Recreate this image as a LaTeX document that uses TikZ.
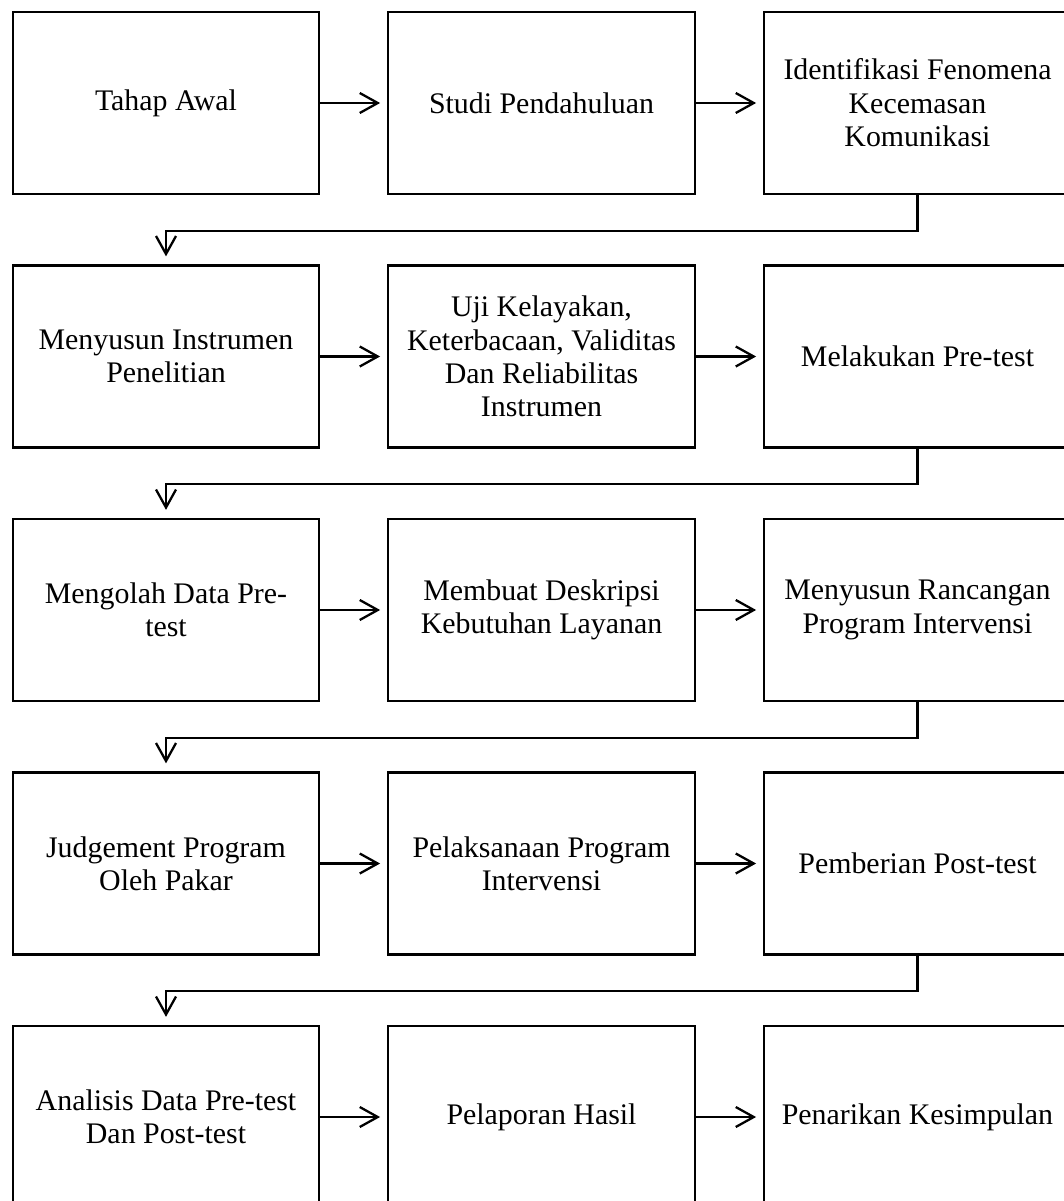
\documentclass[tikz,border=0pt]{standalone}
\usepackage{fontspec}
\setmainfont{Liberation Serif}
\usetikzlibrary{arrows.meta, positioning}

\begin{document}
\begin{tikzpicture}[
    box/.style={rectangle, draw, line width=1.3pt, minimum width=6.13cm,
                minimum height=3.64cm, align=center, inner sep=0pt,
                font=\fontsize{17}{19}\selectfont},
    flow/.style={-{Straight Barb[length=3.6mm, width=4mm]}, line width=1.3pt}]

    % Frame
    \useasboundingbox (0,0) rectangle (21.28,-24.02);
    \clip (0,0) rectangle (21.28,-24.02);

    % Row 1
    \node[box] (awal) at (3.32, -2.06) {Tahap Awal};
    \node[box] (studi) at (10.83, -2.06) {Studi Pendahuluan};
    \node[box] (identifikasi) at (18.35, -2.06) {Identifikasi Fenomena\\Kecemasan\\Komunikasi};

    % Row 2
    \node[box] (instrumen) at (3.32, -7.13) {Menyusun Instrumen\\Penelitian};
    \node[box] (uji) at (10.83, -7.13) {Uji Kelayakan,\\Keterbacaan, Validitas\\Dan Reliabilitas\\Instrumen};
    \node[box] (pretest) at (18.35, -7.13) {Melakukan Pre-test};

    % Row 3
    \node[box] (olah) at (3.32, -12.2) {Mengolah Data Pre-\\test};
    \node[box] (deskripsi) at (10.83, -12.2) {Membuat Deskripsi\\Kebutuhan Layanan};
    \node[box] (rancangan) at (18.35, -12.2) {Menyusun Rancangan\\Program Intervensi};

    % Row 4
    \node[box] (judgement) at (3.32, -17.27) {Judgement Program\\Oleh Pakar};
    \node[box] (pelaksanaan) at (10.83, -17.27) {Pelaksanaan Program\\Intervensi};
    \node[box] (posttest) at (18.35, -17.27) {Pemberian Post-test};

    % Row 5
    \node[box] (analisis) at (3.32, -22.34) {Analisis Data Pre-test\\Dan Post-test};
    \node[box] (pelaporan) at (10.83, -22.34) {Pelaporan Hasil};
    \node[box] (kesimpulan) at (18.35, -22.34) {Penarikan Kesimpulan};

    % Arrows within rows
    \draw[flow, shorten >=0.14cm] (awal) -- (studi);
    \draw[flow, shorten >=0.14cm] (studi) -- (identifikasi);
    \draw[flow, shorten >=0.14cm] (instrumen) -- (uji);
    \draw[flow, shorten >=0.14cm] (uji) -- (pretest);
    \draw[flow, shorten >=0.14cm] (olah) -- (deskripsi);
    \draw[flow, shorten >=0.14cm] (deskripsi) -- (rancangan);
    \draw[flow, shorten >=0.14cm] (judgement) -- (pelaksanaan);
    \draw[flow, shorten >=0.14cm] (pelaksanaan) -- (posttest);
    \draw[flow, shorten >=0.14cm] (analisis) -- (pelaporan);
    \draw[flow, shorten >=0.14cm] (pelaporan) -- (kesimpulan);

    % Arrows between rows
    \draw[flow, shorten >=0.16cm] (identifikasi.south) -- ++(0,-0.71) -| (instrumen.north);
    \draw[flow, shorten >=0.16cm] (pretest.south) -- ++(0,-0.71) -| (olah.north);
    \draw[flow, shorten >=0.16cm] (rancangan.south) -- ++(0,-0.71) -| (judgement.north);
    \draw[flow, shorten >=0.16cm] (posttest.south) -- ++(0,-0.71) -| (analisis.north);
\end{tikzpicture}
\end{document}
